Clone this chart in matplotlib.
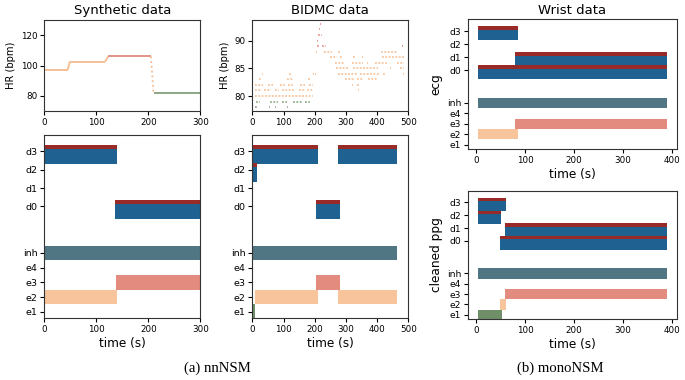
import matplotlib
matplotlib.use('Agg')
import matplotlib.pyplot as plt

# ---------------- data ----------------
# Synthetic HR trace (polyline vertices) and state of each segment
syn_hr_t = [0, 45, 49, 117, 123, 205, 210, 300]
syn_hr_v = [97.3, 97.3, 102.6, 102.6, 106.0, 106.0, 82.0, 82.0]
syn_hr_state = ['e2', 'e2', 'e2', 'e2', 'e3', 'e2', 'e1']

# BIDMC HR: runs of samples at integer HR values (start time, end time, HR)
bid_run_start = [9, 54, 73, 112, 139, 162, 174, 190,
                 12, 57, 94, 131, 169,
                 9,
                 10, 38, 72, 95, 150, 175,
                 9, 51, 89, 115, 153, 183,
                 22, 112, 180,
                 30, 119, 195, 200,
                 197, 201,
                 205, 229, 276, 413,
                 206, 222, 283, 480,
                 208, 211, 213, 217,
                 249, 281, 324, 351, 415,
                 265, 318, 367, 393, 463,
                 267, 324, 441, 473,
                 276, 345, 420, 483,
                 297, 335, 372,
                 318, 335,
                 339]
bid_run_end = [19, 56, 75, 114, 141, 164, 176, 192,
               25, 83, 110, 158, 185,
               196,
               30, 60, 85, 135, 170, 195,
               35, 67, 105, 131, 169, 196,
               30, 129, 185,
               35, 123, 197, 202,
               199, 203,
               207, 256, 284, 463,
               213, 236, 285, 482,
               211, 222, 218, 219,
               270, 292, 329, 356, 489,
               297, 356, 372, 436, 487,
               308, 404, 446, 487,
               334, 409, 425, 486,
               329, 356, 404,
               324, 345,
               341]
bid_run_hr = [78, 78, 78, 78, 78, 78, 78, 78,
              79, 79, 79, 79, 79,
              80,
              81, 81, 81, 81, 81, 81,
              82, 82, 82, 82, 82, 82,
              83, 83, 83,
              84, 84, 84, 86,
              86, 84,
              88, 88, 88, 88,
              89, 89, 89, 89,
              90, 91, 92, 93,
              87, 87, 87, 87, 87,
              86, 86, 86, 86, 86,
              85, 85, 85, 85,
              84, 84, 84, 84,
              83, 83, 83,
              82, 82,
              81]

# Raster rows
rows = ['e1', 'e2', 'e3', 'e4', 'inh', 'd0', 'd1', 'd2', 'd3']

# Active segments per panel: (row, start, end)
syn_seg_row = ['d3', 'd0', 'inh', 'e3', 'e2']
syn_seg_start = [0, 135, 0, 137, 0]
syn_seg_end = [139, 300, 300, 300, 139]

bid_seg_row = ['d3', 'd3', 'd2', 'd0', 'inh', 'e3', 'e2', 'e2', 'e1']
bid_seg_start = [0, 276, 0, 205, 0, 205, 8, 276, 0]
bid_seg_end = [210, 463, 14, 281, 465, 281, 210, 463, 9]

ecg_seg_row = ['d3', 'd1', 'd0', 'inh', 'e3', 'e2']
ecg_seg_start = [3, 79, 3, 3, 79, 3]
ecg_seg_end = [85, 390, 390, 390, 390, 85]

ppg_seg_row = ['d3', 'd2', 'd1', 'd0', 'inh', 'e3', 'e2', 'e1']
ppg_seg_start = [3, 3, 59, 49, 3, 59, 49, 3]
ppg_seg_end = [62, 51, 390, 390, 390, 390, 62, 53]

# ---------------- style ----------------
row_pos = {'e1': 1, 'e2': 2, 'e3': 3, 'e4': 4, 'inh': 5,
           'd0': 8.15, 'd1': 9.4, 'd2': 10.65, 'd3': 11.9}
row_col = {'e1': '#6f8f69', 'e2': '#f7c49c', 'e3': '#e38b7e',
           'inh': '#4f7682', 'd': '#1f6190'}
top_col = '#982b27'
hr_col = {'e1': '#84a07c', 'e2': '#f5bb8e', 'e3': '#e08a7c'}

W, H = 685, 380
fig = plt.figure(figsize=(W / 100, H / 100), dpi=100)


def ax_px(l, r, t, b):
    return fig.add_axes([l / W, 1 - b / H, (r - l) / W, (b - t) / H])


TICK = 6.3
LAB = 8.7


def style(ax):
    ax.tick_params(labelsize=TICK, length=3, width=0.8, pad=2)
    for s in ax.spines.values():
        s.set_linewidth(0.8)
        s.set_color('#333333')


def raster(ax, seg_row, seg_start, seg_end, xlim, xticks):
    for r, s, e in zip(seg_row, seg_start, seg_end):
        y = row_pos[r]
        if r.startswith('d'):
            ax.broken_barh([(s, e - s)], (y - 0.85, 1.0), facecolor=row_col['d'], edgecolor='none')
            ax.broken_barh([(s, e - s)], (y + 0.15, 0.3), facecolor=top_col, edgecolor='none')
        else:
            ax.broken_barh([(s, e - s)], (y - 0.5, 1.0), facecolor=row_col[r], edgecolor='none')
    ax.set_ylim(0.58, 13.0)
    ax.set_xlim(*xlim)
    ax.set_xticks(xticks)
    ax.set_yticks([row_pos[r] for r in rows])
    ax.set_yticklabels(rows)
    style(ax)
    ax.tick_params(axis='y', labelsize=6.8)


# Synthetic HR
a1 = ax_px(44.3, 200.3, 20, 111)
for i, st in enumerate(syn_hr_state):
    ls = ':' if i == 5 else '-'
    a1.plot(syn_hr_t[i:i + 2], syn_hr_v[i:i + 2], color=hr_col[st], lw=1.3, ls=ls,
            solid_capstyle='butt')
a1.set_xlim(0, 300)
a1.set_ylim(70, 130)
a1.set_xticks([0, 100, 200, 300])
a1.set_yticks([80, 100, 120])
a1.set_ylabel('HR (bpm)', fontsize=7.2, labelpad=3)
a1.set_title('Synthetic data', fontsize=9.5, pad=4)
style(a1)

# BIDMC HR
a2 = ax_px(252.3, 408.3, 20, 111)
for s, e, v in zip(bid_run_start, bid_run_end, bid_run_hr):
    if v <= 79:
        c = hr_col['e1']
    elif v <= 88:
        c = hr_col['e2']
    else:
        c = hr_col['e3']
    a2.plot([s, e], [v, v], color=c, lw=1.1, ls=(0, (1.2, 1.0)), solid_capstyle='butt')
a2.set_xlim(0, 500)
a2.set_ylim(77.3, 93.7)
a2.set_xticks([0, 100, 200, 300, 400, 500])
a2.set_yticks([80, 85, 90])
a2.set_ylabel('HR (bpm)', fontsize=7.2, labelpad=3)
a2.set_title('BIDMC data', fontsize=9.5, pad=4)
style(a2)

# Synthetic raster
a3 = ax_px(44.3, 200.3, 135, 318)
raster(a3, syn_seg_row, syn_seg_start, syn_seg_end, (0, 300), [0, 100, 200, 300])
a3.set_xlabel('time (s)', fontsize=LAB, labelpad=2.5)

# BIDMC raster
a4 = ax_px(252.3, 408.3, 135, 318)
raster(a4, bid_seg_row, bid_seg_start, bid_seg_end, (0, 500), [0, 100, 200, 300, 400, 500])
a4.set_xlabel('time (s)', fontsize=LAB, labelpad=2.5)

# Wrist ecg
a5 = ax_px(468.3, 676.7, 19.3, 149)
raster(a5, ecg_seg_row, ecg_seg_start, ecg_seg_end, (-16, 410), [0, 100, 200, 300, 400])
a5.set_ylim(0.58, 13.03)
a5.set_xlabel('time (s)', fontsize=LAB, labelpad=2.5)
a5.set_ylabel('ecg', fontsize=LAB, labelpad=3)
a5.set_title('Wrist data', fontsize=9.5, pad=4)
a5.tick_params(axis='y', labelsize=6.6)

# Wrist ppg
a6 = ax_px(468.3, 676.7, 190.7, 319)
raster(a6, ppg_seg_row, ppg_seg_start, ppg_seg_end, (-16, 410), [0, 100, 200, 300, 400])
a6.set_ylim(0.58, 13.03)
a6.set_xlabel('time (s)', fontsize=LAB, labelpad=2.5)
a6.set_ylabel('cleaned ppg', fontsize=LAB, labelpad=3)
a6.tick_params(axis='y', labelsize=6.6)

fig.text(217 / W, 1 - 368 / H, '(a) nnNSM', ha='center', va='center',
         fontsize=10.6, family='Liberation Serif')
fig.text(560 / W, 1 - 368 / H, '(b) monoNSM', ha='center', va='center',
         fontsize=10.6, family='Liberation Serif')

fig.savefig('out.png', dpi=100)
